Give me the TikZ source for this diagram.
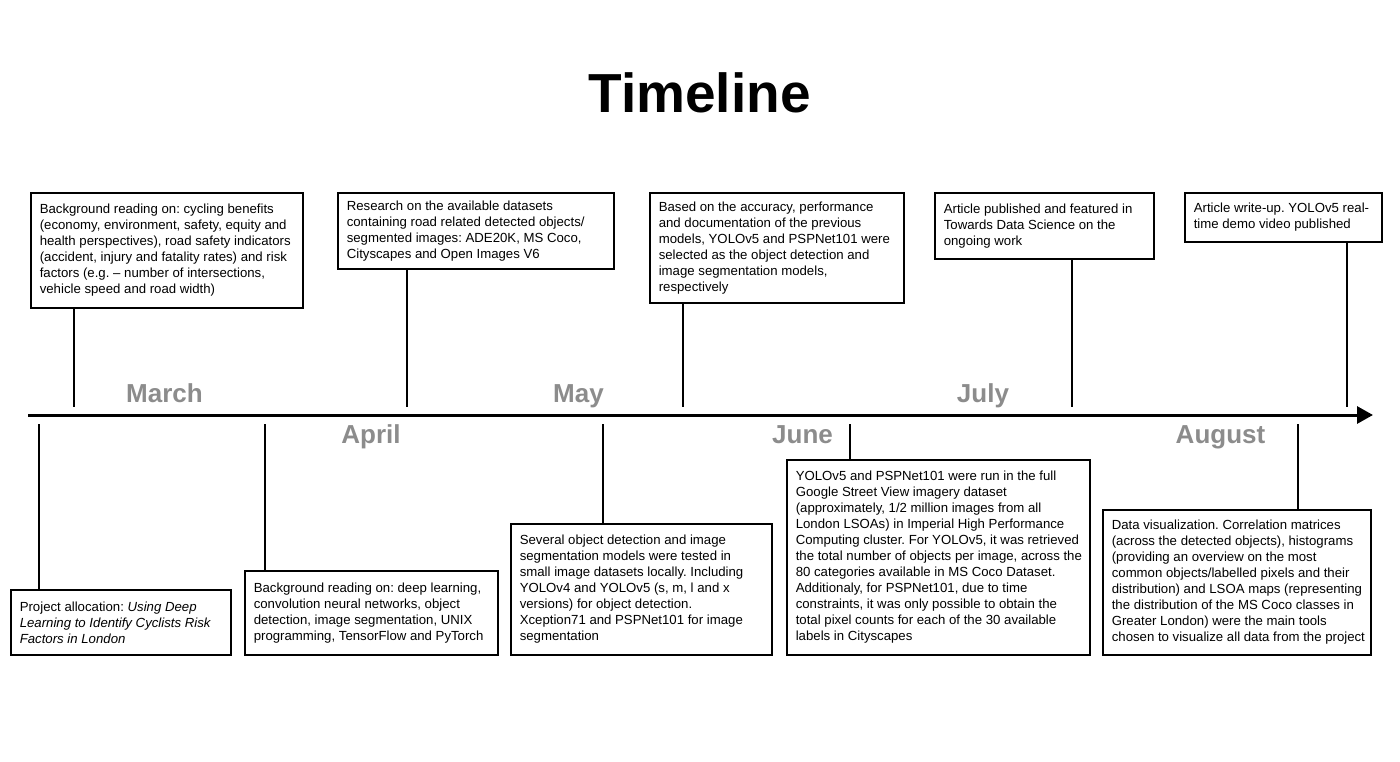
\documentclass[tikz,border=0pt]{standalone}
\usepackage{fontspec}
\setmainfont{Liberation Sans}
\usetikzlibrary{arrows.meta}
\definecolor{monthgray}{HTML}{8C8C8C}
\frenchspacing
\begin{document}
\begin{tikzpicture}[x=1pt,y=-1pt,
  evbox/.style={draw=black, line width=2.8pt, fill=white, minimum width=#1, inner sep=0pt},
  evtext/.style={anchor=west, align=left, inner sep=0pt, font=\fontsize{13.2}{16}\selectfont, xshift=10pt},
  tick/.style={line width=2.2pt},
  month/.style={anchor=base, text=monthgray, font=\fontsize{26}{30}\selectfont\bfseries},
]
\fill[white] (0,0) rectangle (1400,762);
\useasboundingbox (0,0) rectangle (1400,762);

% title
\node[anchor=base, font=\fontsize{55}{60}\selectfont\bfseries] (title) at (699.5,113) {Timeline};

% axis
\coordinate (axS) at (28,415);
\coordinate (axE) at (1373,415);
\draw[line width=3pt, -{Triangle[length=16pt,width=17pt]}] (axS) -- (axE);

% months
\node[month] (mMar) at (164.5,402) {March};
\node[month] (mApr) at (371,443) {April};
\node[month] (mMay) at (578.5,402) {May};
\node[month] (mJun) at (802.5,443) {June};
\node[month] (mJul) at (983,402) {July};
\node[month] (mAug) at (1220.5,443) {August};

% ---------- top boxes ----------
\node[evbox=272pt, minimum height=115pt] (bA) at (167,250.5) {};
\node[evtext] (tA) at (bA.west) {Background reading on: cycling benefits\\(economy, environment, safety, equity and\\health perspectives), road safety indicators\\(accident, injury and fatality rates) and risk\\factors (e.g. -- number of intersections,\\vehicle speed and road width)};

\node[evbox=276pt, minimum height=76pt] (bB) at (476,231) {};
\node[evtext] (tB) at (bB.west) {Research on the available datasets\\containing road related detected objects/\\segmented images: ADE20K, MS Coco,\\Cityscapes and Open Images V6};

\node[evbox=254pt, minimum height=110pt] (bC) at (777,248) {};
\node[evtext] (tC) at (bC.west) {Based on the accuracy, performance\\and documentation of the previous\\models, YOLOv5 and PSPNet101 were\\selected as the object detection and\\image segmentation models,\\respectively};

\node[evbox=219pt, minimum height=66pt] (bD) at (1044.5,226) {};
\node[evtext] (tD) at (bD.west) {Article published and featured in\\Towards Data Science on the\\ongoing work};

\node[evbox=197pt, minimum height=49pt] (bE) at (1283.5,217.5) {};
\node[evtext] (tE) at (bE.west) {Article write-up. YOLOv5 real-\\time demo video published};

% ---------- bottom boxes ----------
\node[evbox=220pt, minimum height=65pt] (bF) at (121,622.5) {};
\node[evtext] (tF) at (bF.west) {Project allocation: \textit{Using Deep}\\\textit{Learning to Identify Cyclists Risk}\\\textit{Factors in London}};

\node[evbox=253pt, minimum height=84pt] (bG) at (371.5,613) {};
\node[evtext] (tG) at (bG.west) {Background reading on: deep learning,\\convolution neural networks, object\\detection, image segmentation, UNIX\\programming, TensorFlow and PyTorch};

\node[evbox=261pt, minimum height=131pt] (bH) at (641.5,589.5) {};
\node[evtext] (tH) at (bH.west) {Several object detection and image\\segmentation models were tested in\\small image datasets locally. Including\\YOLOv4 and YOLOv5 (s, m, l and x\\versions) for object detection.\\Xception71 and PSPNet101 for image\\segmentation};

\node[evbox=303pt, minimum height=195pt] (bI) at (938.5,557.5) {};
\node[evtext] (tI) at (bI.west) {YOLOv5 and PSPNet101 were run in the full\\Google Street View imagery dataset\\(approximately, 1/2 million images from all\\London LSOAs) in Imperial High Performance\\Computing cluster. For YOLOv5, it was retrieved\\the total number of objects per image, across the\\80 categories available in MS Coco Dataset.\\Additionaly, for PSPNet101, due to time\\constraints, it was only possible to obtain the\\total pixel counts for each of the 30 available\\labels in Cityscapes};

\node[evbox=268pt, minimum height=145pt] (bJ) at (1237,582.5) {};
\node[evtext] (tJ) at (bJ.west) {Data visualization. Correlation matrices\\(across the detected objects), histograms\\(providing an overview on the most\\common objects/labelled pixels and their\\distribution) and LSOA maps (representing\\the distribution of the MS Coco classes in\\Greater London) were the main tools\\chosen to visualize all data from the project};

% ---------- ticks ----------
\coordinate (kA) at (74,407);
\coordinate (kB) at (407,407);
\coordinate (kC) at (683,407);
\coordinate (kD) at (1072,407);
\coordinate (kE) at (1347,407);
\coordinate (kF) at (39,424);
\coordinate (kG) at (265,424);
\coordinate (kH) at (603,424);
\coordinate (kI) at (850,424);
\coordinate (kJ) at (1298,424);

\draw[tick] (bA.south -| kA) -- (kA);
\draw[tick] (bB.south -| kB) -- (kB);
\draw[tick] (bC.south -| kC) -- (kC);
\draw[tick] (bD.south -| kD) -- (kD);
\draw[tick] (bE.south -| kE) -- (kE);
\draw[tick] (bF.north -| kF) -- (kF);
\draw[tick] (bG.north -| kG) -- (kG);
\draw[tick] (bH.north -| kH) -- (kH);
\draw[tick] (bI.north -| kI) -- (kI);
\draw[tick] (bJ.north -| kJ) -- (kJ);
\end{tikzpicture}
\end{document}
